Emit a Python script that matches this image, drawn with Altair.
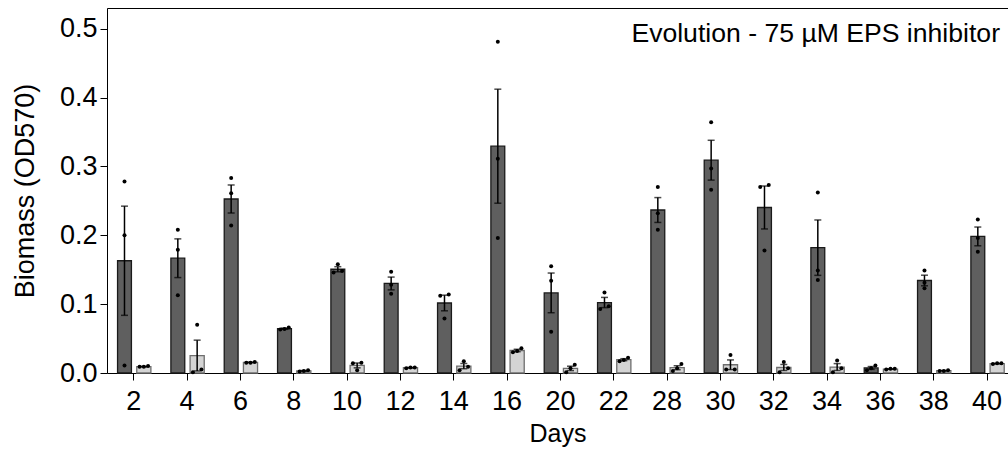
import altair as alt
import pandas as pd

days = ["2", "4", "6", "8", "10", "12", "14", "16", "20", "22", "28", "30", "32", "34", "36", "38", "40"]

# three replicate OD570 readings per day, dark (A) and light (B) series
dark_r1 = [0.278, 0.208, 0.283, 0.066, 0.158, 0.147, 0.114, 0.481, 0.155, 0.117, 0.270, 0.364, 0.273, 0.262, 0.011, 0.149, 0.223]
dark_r2 = [0.200, 0.179, 0.261, 0.064, 0.148, 0.128, 0.112, 0.311, 0.134, 0.097, 0.232, 0.297, 0.270, 0.149, 0.007, 0.131, 0.196]
dark_r3 = [0.011, 0.113, 0.214, 0.063, 0.146, 0.115, 0.079, 0.196, 0.060, 0.093, 0.208, 0.266, 0.178, 0.135, 0.004, 0.123, 0.176]
light_r1 = [0.010, 0.070, 0.016, 0.004, 0.015, 0.008, 0.017, 0.036, 0.012, 0.022, 0.013, 0.026, 0.016, 0.018, 0.006, 0.004, 0.014]
light_r2 = [0.009, 0.005, 0.015, 0.003, 0.014, 0.008, 0.009, 0.032, 0.007, 0.019, 0.007, 0.005, 0.007, 0.007, 0.006, 0.003, 0.014]
light_r3 = [0.009, 0.001, 0.015, 0.002, 0.004, 0.007, 0.004, 0.030, 0.001, 0.017, 0.003, 0.005, 0.001, 0.001, 0.005, 0.003, 0.013]

rows = []
for grp, reps in (("A", [dark_r1, dark_r2, dark_r3]), ("B", [light_r1, light_r2, light_r3])):
    for r, vals in enumerate(reps):
        for i, v in enumerate(vals):
            rows.append({"idx": i, "day": days[i], "grp": grp, "rep": r + 1, "value": v})
df = pd.DataFrame(rows)

FONT = "Liberation Sans"
YTITLE = "Biomass (OD570)"
label_expr = "[" + ",".join("'%s'" % d for d in days) + "][datum.value]"

xscale = alt.Scale(domain=[-0.493, 16.401], nice=False, zero=False)
yscale = alt.Scale(domain=[0, 0.53], nice=False)

x_axis = alt.Axis(values=list(range(len(days))), labelExpr=label_expr, title="Days",
                  grid=False, tickSize=7, tickColor="black", domainColor="black",
                  labelFontSize=27, titleFontSize=25, labelPadding=8, titlePadding=7,
                  labelColor="black", titleColor="black", titleFontWeight="normal",
                  labelFlush=False)
y_axis = alt.Axis(values=[0, 0.1, 0.2, 0.3, 0.4, 0.5], format=".1f", title=YTITLE,
                  grid=False, tickSize=7, tickColor="black", domainColor="black",
                  labelFontSize=27, titleFontSize=27, labelPadding=3, titlePadding=20,
                  labelColor="black", titleColor="black", titleFontWeight="normal",
                  labelFlush=False)

base = alt.Chart(df).transform_calculate(
    x0="datum.idx + (datum.grp == 'A' ? -0.295 : 0.065)",
    x1="datum.idx + (datum.grp == 'A' ? -0.035 : 0.33)",
).transform_calculate(
    xc="(datum.x0 + datum.x1) / 2"
)

agg = base.transform_aggregate(
    mean="mean(value)", se="stderr(value)", groupby=["idx", "grp", "x0", "x1", "xc"]
).transform_calculate(
    lo="datum.mean - datum.se", hi="datum.mean + datum.se"
)

bars = agg.mark_bar(strokeWidth=1.3).encode(
    x=alt.X("x0:Q", scale=xscale, axis=x_axis),
    x2="x1:Q",
    y=alt.Y("mean:Q", scale=yscale, axis=y_axis),
    y2=alt.datum(0),
    fill=alt.Fill("grp:N", scale=alt.Scale(domain=["A", "B"], range=["#5f5f5f", "#d4d4d4"]), legend=None),
    stroke=alt.Stroke("grp:N", scale=alt.Scale(domain=["A", "B"], range=["#1a1a1a", "#6e6e6e"]), legend=None),
)

err = agg.mark_rule(color="black", strokeWidth=1.5).encode(
    x=alt.X("xc:Q", axis=None), y=alt.Y("lo:Q", title=YTITLE), y2="hi:Q"
)
cap_hi = agg.mark_tick(color="black", orient="horizontal", size=7, thickness=1.5).encode(
    x=alt.X("xc:Q", axis=None), y=alt.Y("hi:Q", title=YTITLE)
)
cap_lo = agg.mark_tick(color="black", orient="horizontal", size=7, thickness=1.5).encode(
    x=alt.X("xc:Q", axis=None), y=alt.Y("lo:Q", title=YTITLE)
)

pts = base.transform_window(
    window=[alt.WindowFieldDef(op="lag", field="value", param=1, **{"as": "prev"}),
            alt.WindowFieldDef(op="lead", field="value", param=1, **{"as": "next"})],
    groupby=["idx", "grp"],
    sort=[alt.SortField("value", order="ascending")],
).transform_calculate(
    cp="isValid(datum.prev) && (datum.value - datum.prev) < 0.0065",
    cn="isValid(datum.next) && (datum.next - datum.value) < 0.0065",
).transform_calculate(
    xp="datum.xc + (datum.cp && datum.cn ? 0 : (datum.cn ? -0.08 : (datum.cp ? 0.08 : 0)))"
).mark_circle(color="black", size=16, opacity=1).encode(
    x=alt.X("xp:Q", axis=None), y=alt.Y("value:Q", title=YTITLE)
)

top = alt.Chart(df).mark_point(opacity=0).encode(
    x=alt.X("idx:Q", scale=xscale,
            axis=alt.Axis(orient="top", labels=False, ticks=False, title=None,
                          domainColor="black", grid=False)),
)

chart = alt.layer(bars, err, cap_hi, cap_lo, pts, top).resolve_axis(x="independent").properties(
    width=901, height=365,
    autosize=alt.AutoSizeParams(type="none"),
    padding={"left": 107, "top": 8, "right": 0, "bottom": 79},
    title=alt.TitleParams("Evolution - 75 µM EPS inhibitor", anchor="end", frame="group",
                          fontSize=26.6, font=FONT, fontWeight="normal", color="black",
                          dx=-8, dy=44),
).configure_view(stroke=None).configure(font=FONT).configure_axis(labelFont=FONT, titleFont=FONT)

chart.save("out.html", embed_options={"renderer": "svg", "actions": False})
